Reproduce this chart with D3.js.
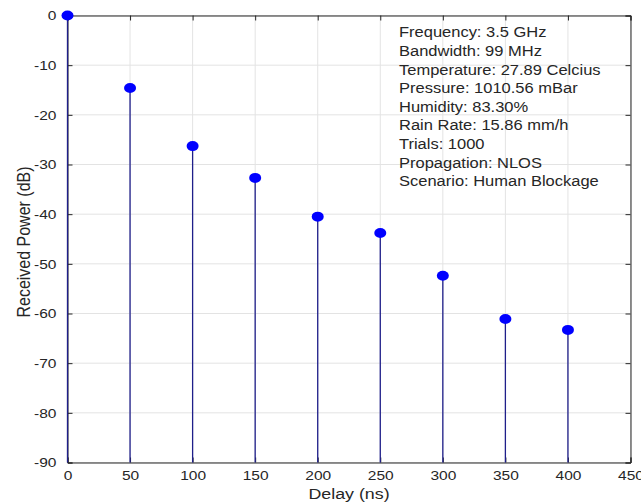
<!DOCTYPE html>
<html><head><meta charset="utf-8">
<script src="https://cdn.jsdelivr.net/npm/d3@7"></script>
<style>body{margin:0;background:#fff}svg{display:block}text{font-family:"Liberation Sans",Arial,sans-serif}</style>
</head><body>
<svg id="c" width="641" height="503"></svg>
<script>
const delays = [0, 50, 100, 150, 200, 250, 300, 350, 400];
const powers = [0, -14.6, -26.3, -32.7, -40.5, -43.8, -52.4, -61.1, -63.3];
const xTicks = [0, 50, 100, 150, 200, 250, 300, 350, 400, 450];
const yTicks = [0, -10, -20, -30, -40, -50, -60, -70, -80, -90];
const infoLines = ["Frequency: 3.5 GHz", "Bandwidth: 99 MHz", "Temperature: 27.89 Celcius",
  "Pressure: 1010.56 mBar", "Humidity: 83.30%", "Rain Rate: 15.86 mm/h", "Trials: 1000",
  "Propagation: NLOS", "Scenario: Human Blockage"];

const L = 67.5, R = 630.5, T = 15.5, B = 462.5;
const SX = 1.15;
const svg = d3.select("#c");
const x = d3.scaleLinear().domain([0, 450]).range([L, R]);
const y = d3.scaleLinear().domain([-90, 0]).range([B, T]);
const fmt = d => String(d);

// grid
const g = svg.append("g");
g.selectAll(".gx").data(xTicks).join("line")
  .attr("x1", d => x(d)).attr("x2", d => x(d)).attr("y1", T).attr("y2", B)
  .attr("stroke", "#e3e3e3").attr("stroke-width", 1);
g.selectAll(".gy").data(yTicks).join("line")
  .attr("y1", d => y(d)).attr("y2", d => y(d)).attr("x1", L).attr("x2", R)
  .attr("stroke", "#e3e3e3").attr("stroke-width", 1);

// info text
const info = svg.append("text").attr("font-size", 15).attr("fill", "#262626")
  .attr("transform", `translate(399,0) scale(1.1,1)`);
infoLines.forEach((t, i) => info.append("tspan").attr("x", 0).attr("y", 37.5 + i * 18.6).text(t));

// axes
const axisCol = "#262626";
const xAx = svg.append("g").attr("transform", `translate(0,${B})`)
  .call(d3.axisBottom(x).tickValues(xTicks).tickSize(-5).tickPadding(8).tickFormat(fmt));
const xTop = svg.append("g").attr("transform", `translate(0,${T})`)
  .call(d3.axisTop(x).tickValues(xTicks).tickSize(-5).tickFormat(""));
const yAx = svg.append("g").attr("transform", `translate(${L},0)`)
  .call(d3.axisLeft(y).tickValues(yTicks).tickSize(-5).tickPadding(11).tickFormat(fmt));
const yR = svg.append("g").attr("transform", `translate(${R},0)`)
  .call(d3.axisRight(y).tickValues(yTicks).tickSize(-5).tickFormat(""));
[xAx, xTop, yAx, yR].forEach(a => {
  a.select(".domain").attr("stroke", axisCol);
  a.selectAll(".tick line").attr("stroke", axisCol);
  a.selectAll("text").attr("font-size", 13.5).attr("fill", axisCol)
    .attr("font-family", '"Liberation Sans",Arial,sans-serif')
    .attr("transform", `scale(${SX},1)`);
});
yAx.selectAll("text").attr("x", -11 / SX);

// stems
svg.append("g").selectAll("line").data(delays).join("line")
  .attr("x1", d => x(d)).attr("x2", d => x(d))
  .attr("y1", (d, i) => y(powers[i])).attr("y2", y(-90))
  .attr("stroke", "#1f1f8a").attr("stroke-width", 1.3);
svg.append("g").selectAll("ellipse").data(delays).join("ellipse")
  .attr("cx", d => x(d)).attr("cy", (d, i) => y(powers[i]))
  .attr("rx", 6).attr("ry", 5).attr("fill", "#0000ff");

// labels
svg.append("text").attr("transform", `translate(${(L + R) / 2},499) scale(${SX},1)`)
  .attr("text-anchor", "middle").attr("font-size", 15.5).attr("fill", axisCol).text("Delay (ns)");
svg.append("text").attr("transform", `translate(30,${(T + B) / 2 + 3}) scale(${SX},1) rotate(-90)`)
  .attr("text-anchor", "middle").attr("font-size", 16).attr("fill", axisCol).text("Received Power (dB)");
</script>
</body></html>
